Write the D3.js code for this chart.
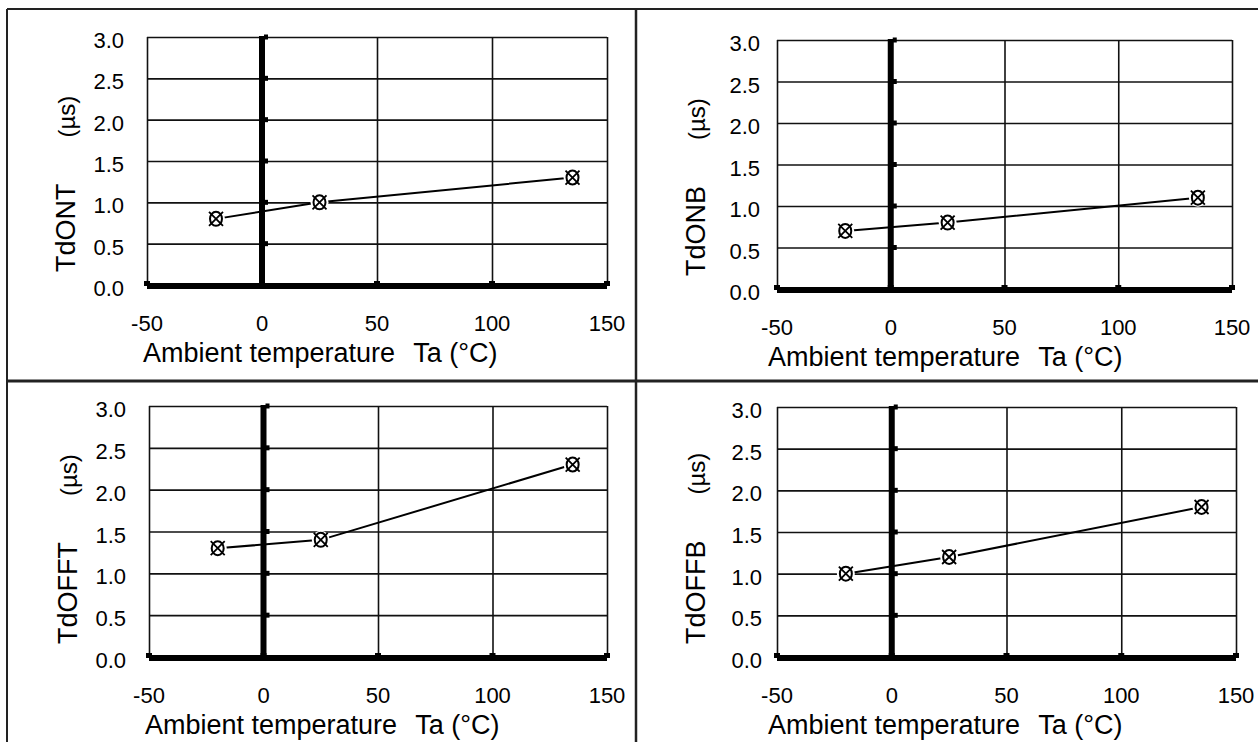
<!DOCTYPE html>
<html><head><meta charset="utf-8">
<script src="https://cdn.jsdelivr.net/npm/d3@7/dist/d3.min.js"></script>
<style>body{margin:0;background:#fff}svg{display:block}text{font-family:"Liberation Sans",Arial,sans-serif;fill:#000}</style>
</head><body><svg id="c" width="1258" height="742"></svg>
<script>
// ---- data ----
const temperatures = [-20, 25, 135];
const tdONT  = [0.8, 1.0, 1.3];
const tdONB  = [0.7, 0.8, 1.1];
const tdOFFT = [1.3, 1.4, 2.3];
const tdOFFB = [1.0, 1.2, 1.8];
const panelNames = ["TdONT", "TdONB", "TdOFFT", "TdOFFB"];
const xTicks = [-50, 0, 50, 100, 150];
const yTicks = [0, 0.5, 1.0, 1.5, 2.0, 2.5, 3.0];
const xTitle = "Ambient temperature";
const xUnit = "Ta (°C)";
const yUnit = "(µs)";
const seriesList = [tdONT, tdONB, tdOFFT, tdOFFB];

// ---- layout ----
const layout = [
  {L:147, R:607, T:37, B:285, yl:23, xl:4},
  {L:777, R:1232, T:40, B:289, yl:17, xl:9},
  {L:149, R:607, T:406, B:657, yl:23, xl:4},
  {L:777, R:1236, T:407, B:657, yl:15, xl:9}
];

const svg = d3.select("#c");
// outer frame
const frame = svg.append("g").attr("stroke","#222").attr("fill","none");
frame.append("line").attr("x1",7).attr("x2",1258).attr("y1",9).attr("y2",9).attr("stroke-width",2);
frame.append("line").attr("x1",7).attr("x2",7).attr("y1",9).attr("y2",742).attr("stroke-width",2);
frame.append("line").attr("x1",636).attr("x2",636).attr("y1",9).attr("y2",742).attr("stroke-width",2.5);
frame.append("line").attr("x1",7).attr("x2",1258).attr("y1",381).attr("y2",381).attr("stroke-width",3);

panelNames.forEach((name, i) => {
  const lay = layout[i];
  const vals = seriesList[i];
  const x = d3.scaleLinear().domain([-50,150]).range([lay.L, lay.R]);
  const y = d3.scaleLinear().domain([0,3]).range([lay.B, lay.T]);
  const g = svg.append("g");

  // grid via axes
  g.append("g").attr("transform",`translate(0,${lay.B})`)
    .call(d3.axisBottom(x).tickValues(xTicks).tickSize(-(lay.B-lay.T)).tickFormat(""))
    .call(s=>{s.select(".domain").remove(); s.selectAll("line").attr("stroke","#111").attr("stroke-width",1.6);});
  g.append("g").attr("transform",`translate(${lay.L},0)`)
    .call(d3.axisLeft(y).tickValues(yTicks).tickSize(-(lay.R-lay.L)).tickFormat(""))
    .call(s=>{s.select(".domain").remove(); s.selectAll("line").attr("stroke","#111").attr("stroke-width",1.6);});

  // thick zero line and baseline
  g.append("line").attr("x1",x(0)).attr("x2",x(0)).attr("y1",y(3)-1).attr("y2",y(0))
    .attr("stroke","#000").attr("stroke-width",6);
  g.append("line").attr("x1",x(-50)).attr("x2",x(150)).attr("y1",y(0)+1).attr("y2",y(0)+1)
    .attr("stroke","#000").attr("stroke-width",6);
  // tick squares on zero line
  g.selectAll(".ys").data(yTicks.filter(v=>v>0)).join("rect")
    .attr("x",x(0)+2).attr("y",d=>y(d)-2.5).attr("width",4).attr("height",5).attr("fill","#000");
  // tick squares on baseline
  g.selectAll(".xs").data(xTicks).join("rect")
    .attr("x",d=>x(d)-3).attr("y",y(0)-4).attr("width",6).attr("height",5).attr("fill","#000");

  // tick labels
  g.selectAll(".yl").data(yTicks).join("text")
    .attr("x",lay.L-lay.yl).attr("y",d=>y(d)+11).attr("text-anchor","end")
    .style("font-size","22px").text(d=>d3.format(".1f")(d));
  g.selectAll(".xl").data(xTicks).join("text")
    .attr("x",d=>x(d)).attr("y",lay.B+46).attr("text-anchor","middle")
    .style("font-size","22px").text(d=>d);

  // axis titles
  const xt = g.append("text").attr("x",lay.L-lay.xl).attr("y",lay.B+77).style("font-size","27px");
  xt.append("tspan").text(xTitle);
  xt.append("tspan").attr("dx",18).text(xUnit);

  const ybase = lay.B - 13;
  const yt = g.append("text").attr("transform",`translate(${lay.L-72},${ybase}) rotate(-90)`)
    .attr("text-anchor","start");
  yt.append("tspan").style("font-size","27px").text(name);
  yt.append("tspan").attr("dx",46).style("font-size","24px").text(yUnit);

  // data line
  const pts = temperatures.map((t,k)=>[t, vals[k]]);
  g.append("path").datum(pts)
    .attr("d", d3.line().x(d=>x(d[0])).y(d=>y(d[1])))
    .attr("fill","none").attr("stroke","#000").attr("stroke-width",2);
  // markers
  const m = g.selectAll(".mk").data(pts).join("g")
    .attr("transform",d=>`translate(${x(d[0])},${y(d[1])})`);
  m.append("circle").attr("r",9).attr("fill","#fff");
  m.append("ellipse").attr("rx",6).attr("ry",7).attr("fill","none").attr("stroke","#000").attr("stroke-width",2);
  m.append("path").attr("d","M-7,-7L7,7M7,-7L-7,7").attr("stroke","#000").attr("stroke-width",1.8);
});
</script></body></html>
